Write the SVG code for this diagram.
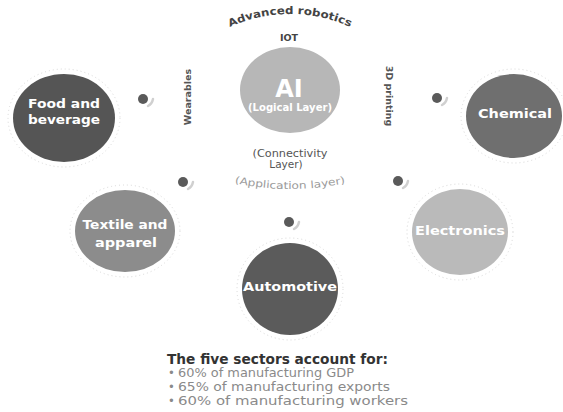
<svg xmlns="http://www.w3.org/2000/svg" width="563" height="412" viewBox="0 0 563 412">
<defs>
<style>
.lbl{font-family:"DejaVu Sans","Liberation Sans",sans-serif;font-weight:bold;fill:#fff;text-anchor:middle}
.ring{fill:none;stroke:#d8d8d8;stroke-width:1;stroke-dasharray:1 3}
.dot{fill:#5a5a5a}
.swoosh{fill:none;stroke:#d0d0d0;stroke-width:2.5;stroke-linecap:round}
.sm{font-family:"DejaVu Sans","Liberation Sans",sans-serif;text-anchor:middle}
.bul{font-family:"DejaVu Sans","Liberation Sans",sans-serif;font-size:11.5px;fill:#8a8a8a}
</style>
<path id="arcTop" d="M215,34.7 A146,146 0 0 1 365,34.7"/>
<path id="arcBot" d="M226,181 Q290,197 354,181"/>
</defs>
<rect width="563" height="412" fill="#fff"/>

<g id="connectors">
<circle class="dot" cx="143" cy="99" r="5"/><path class="swoosh" d="M148,106 Q152,104 153,99"/>
<circle class="dot" cx="437" cy="98" r="5"/><path class="swoosh" d="M442,105 Q446,103 447,98"/>
<circle class="dot" cx="183" cy="182" r="5"/><path class="swoosh" d="M188,189 Q192,187 193,182"/>
<circle class="dot" cx="398" cy="181" r="5"/><path class="swoosh" d="M403,188 Q407,186 408,181"/>
<circle class="dot" cx="289" cy="222" r="5"/><path class="swoosh" d="M294,229 Q298,227 299,222"/>
</g>

<g id="ai">
<ellipse cx="290" cy="90" rx="50" ry="43" fill="#b7b7b7"/>
<text class="lbl" x="289" y="97" font-size="24">AI</text>
<text class="lbl" x="290" y="111" font-size="10.5" textLength="84" lengthAdjust="spacingAndGlyphs">(Logical Layer)</text>
</g>

<g id="layers">
<text class="sm" font-size="10.5" font-weight="bold" fill="#444"><textPath href="#arcTop" startOffset="50%" textLength="124" lengthAdjust="spacingAndGlyphs">Advanced robotics</textPath></text>
<text class="sm" x="289" y="41" font-size="9.5" font-weight="bold" fill="#444">IOT</text>
<text class="sm" x="290" y="157" font-size="10.5" fill="#555" textLength="75" lengthAdjust="spacingAndGlyphs">(Connectivity</text>
<text class="sm" x="286" y="168" font-size="10.5" fill="#555">Layer)</text>
<text class="sm" font-size="10" fill="#9a9a9a"><textPath href="#arcBot" startOffset="50%" textLength="112" lengthAdjust="spacingAndGlyphs">(Application layer)</textPath></text>
<text class="sm" transform="translate(191,97) rotate(-90)" font-size="9.5" font-weight="bold" fill="#555">Wearables</text>
<text class="sm" transform="translate(386,96) rotate(90)" font-size="9.5" font-weight="bold" fill="#555">3D printing</text>
</g>

<g id="food">
<ellipse class="ring" cx="64" cy="118" rx="56" ry="49"/>
<ellipse cx="64" cy="118" rx="51" ry="44" fill="#555"/>
<text class="lbl" x="64" y="108" font-size="13" textLength="72" lengthAdjust="spacingAndGlyphs">Food and</text>
<text class="lbl" x="64" y="124" font-size="13" textLength="72" lengthAdjust="spacingAndGlyphs">beverage</text>
</g>

<g id="chemical">
<ellipse class="ring" cx="514" cy="116" rx="53" ry="47"/>
<ellipse cx="514" cy="116" rx="48" ry="42" fill="#6f6f6f"/>
<text class="lbl" x="515" y="118" font-size="12.5" textLength="74" lengthAdjust="spacingAndGlyphs">Chemical</text>
</g>

<g id="textile">
<ellipse class="ring" cx="125" cy="231" rx="55" ry="46"/>
<ellipse cx="125" cy="231" rx="50" ry="41" fill="#8c8c8c"/>
<text class="lbl" x="125" y="229" font-size="12.5" textLength="85" lengthAdjust="spacingAndGlyphs">Textile and</text>
<text class="lbl" x="126" y="247" font-size="12.5" textLength="62" lengthAdjust="spacingAndGlyphs">apparel</text>
</g>

<g id="automotive">
<ellipse class="ring" cx="290" cy="289" rx="53" ry="51"/>
<ellipse cx="290" cy="289" rx="48" ry="46" fill="#5b5b5b"/>
<text class="lbl" x="290" y="291" font-size="12.5" textLength="94" lengthAdjust="spacingAndGlyphs">Automotive</text>
</g>

<g id="electronics">
<ellipse class="ring" cx="460" cy="232" rx="53" ry="48"/>
<ellipse cx="460" cy="232" rx="48" ry="43" fill="#bababa"/>
<text class="lbl" x="460" y="235" font-size="12.5" textLength="90" lengthAdjust="spacingAndGlyphs">Electronics</text>
</g>

<g id="summary">
<text x="167" y="364" font-family="DejaVu Sans, Liberation Sans, sans-serif" font-size="13.5" font-weight="bold" fill="#333" textLength="221" lengthAdjust="spacingAndGlyphs">The five sectors account for:</text>
<text class="bul" x="168" y="377">•</text><text class="bul" x="178" y="377" textLength="176" lengthAdjust="spacingAndGlyphs">60% of manufacturing GDP</text>
<text class="bul" x="168" y="391">•</text><text class="bul" x="178" y="391" textLength="212" lengthAdjust="spacingAndGlyphs">65% of manufacturing exports</text>
<text class="bul" x="168" y="405">•</text><text class="bul" x="178" y="405" textLength="230" lengthAdjust="spacingAndGlyphs">60% of manufacturing workers</text>
</g>
</svg>
